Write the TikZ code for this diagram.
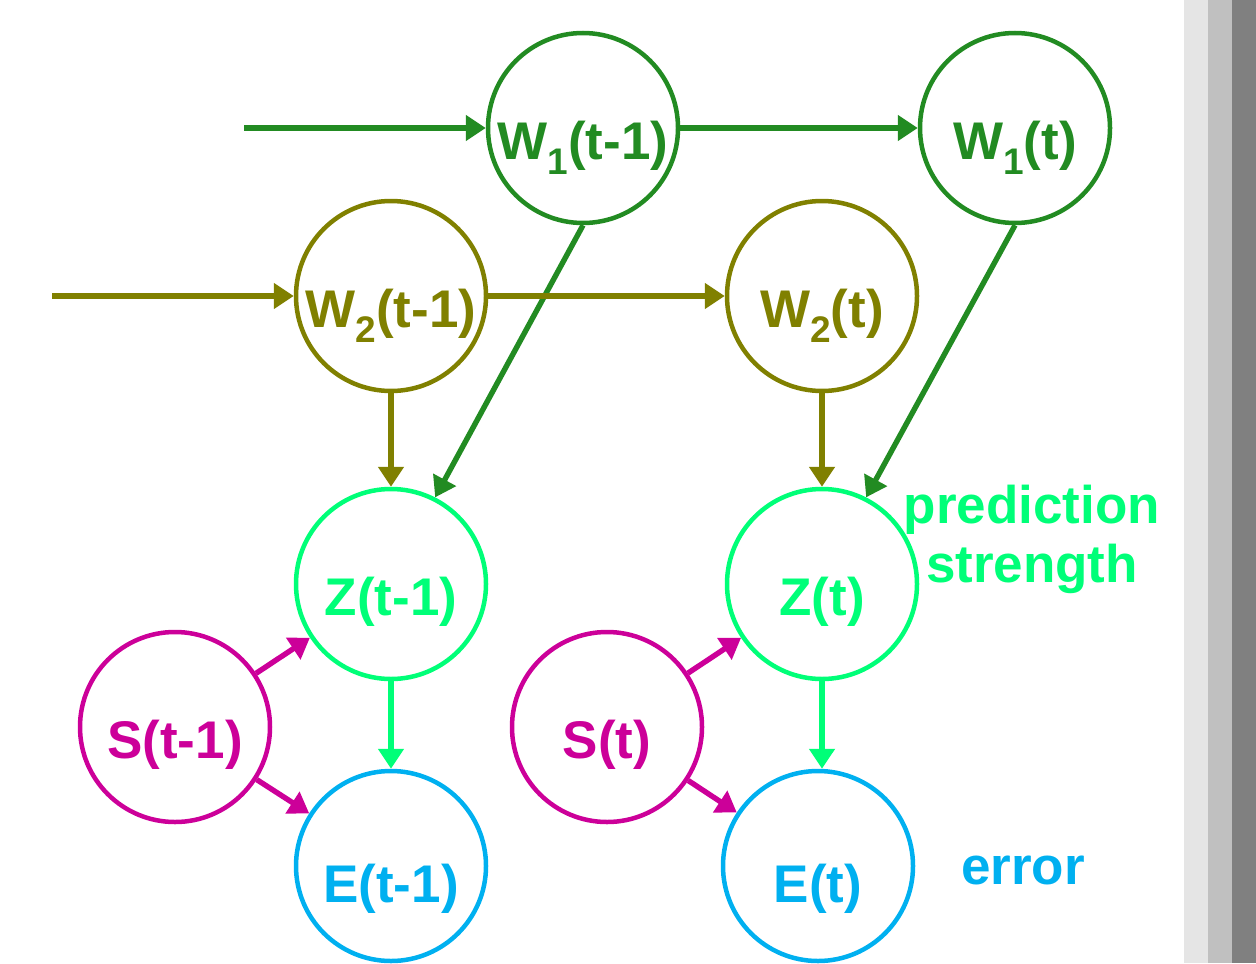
\documentclass[tikz,border=0pt]{standalone}
\usepackage{fontspec}
\setmainfont{Liberation Sans}
\usetikzlibrary{arrows.meta}
\definecolor{wonecol}{RGB}{34,139,34}
\definecolor{wtwocol}{RGB}{128,128,0}
\definecolor{zcol}{RGB}{0,255,120}
\definecolor{scol}{RGB}{204,0,153}
\definecolor{ecol}{RGB}{0,176,240}
\definecolor{barone}{RGB}{229,229,229}
\definecolor{bartwo}{RGB}{192,192,192}
\definecolor{barthree}{RGB}{128,128,128}
\newcommand{\lowidx}[1]{\raisebox{-7.5pt}{\fontsize{18.5pt}{19pt}\selectfont #1}}

\begin{document}
\begin{tikzpicture}[x=0.5pt,y=-0.5pt]
    \tikzstyle{every node}+=[inner sep=0pt]
    \tikzstyle{var}=[circle,draw,line width=2.25pt,minimum size=95pt,font=\bfseries\fontsize{26.5pt}{30pt}\selectfont,text height=31pt,text depth=0pt]
    \tikzstyle{lbl}=[font=\bfseries\fontsize{26.5pt}{29.5pt}\selectfont,align=center,anchor=base]
    \tikzstyle{arr}=[line width=2.7pt,-{Triangle[length=10pt,width=12.5pt]}]
    \useasboundingbox (0,0) rectangle (1256,963);
    % side bars
    \fill [barone] (1184,0) rectangle (1208,963);
    \fill [bartwo] (1208,0) rectangle (1232,963);
    \fill [barthree] (1232,0) rectangle (1256,963);
    % nodes
    \node [var,wonecol] (w1a) at (583,128) {W\lowidx{1}(t-1)};
    \node [var,wonecol] (w1b) at (1015,128) {W\lowidx{1}(t)};
    \node [var,wtwocol] (w2a) at (391,296) {W\lowidx{2}(t-1)};
    \node [var,wtwocol] (w2b) at (822,296) {W\lowidx{2}(t)};
    \node [var,zcol] (za) at (391,584) {Z(t-1)};
    \node [var,zcol] (zb) at (822,584) {Z(t)};
    \node [var,scol] (sa) at (175,727) {S(t-1)};
    \node [var,scol] (sb) at (607,727) {S(t)};
    \node [var,ecol,text height=36pt] (ea) at (391,866) {E(t-1)};
    \node [var,ecol,text height=36pt] (eb) at (818,866) {E(t)};
    \node [lbl,zcol] (predlbl) at (1032,582) {prediction\\strength};
    \node [lbl,ecol] (errlbl) at (1023,884) {error};
    \coordinate (w1in) at (244,128);
    \coordinate (w2in) at (52,296);
    % edges
    \draw [arr,wonecol] (w1in) -- (w1a);
    \draw [arr,wonecol] (w1a) -- (w1b);
    \draw [arr,wonecol] (w1a.south) -- (za.63);
    \draw [arr,wonecol] (w1b.south) -- (zb.63);
    \draw [arr,wtwocol] (w2in) -- (w2a);
    \draw [arr,wtwocol] (w2a) -- (w2b);
    \draw [arr,wtwocol] (w2a) -- (za);
    \draw [arr,wtwocol] (w2b) -- (zb);
    \draw [arr,zcol] (za) -- (ea);
    \draw [arr,zcol] (zb.south) -- (zb.south |- eb.north);
    \draw [arr,scol] (sa) -- (za);
    \draw [arr,scol] (sa) -- (ea);
    \draw [arr,scol] (sb) -- (zb);
    \draw [arr,scol] (sb) -- (eb);
\end{tikzpicture}
\end{document}
